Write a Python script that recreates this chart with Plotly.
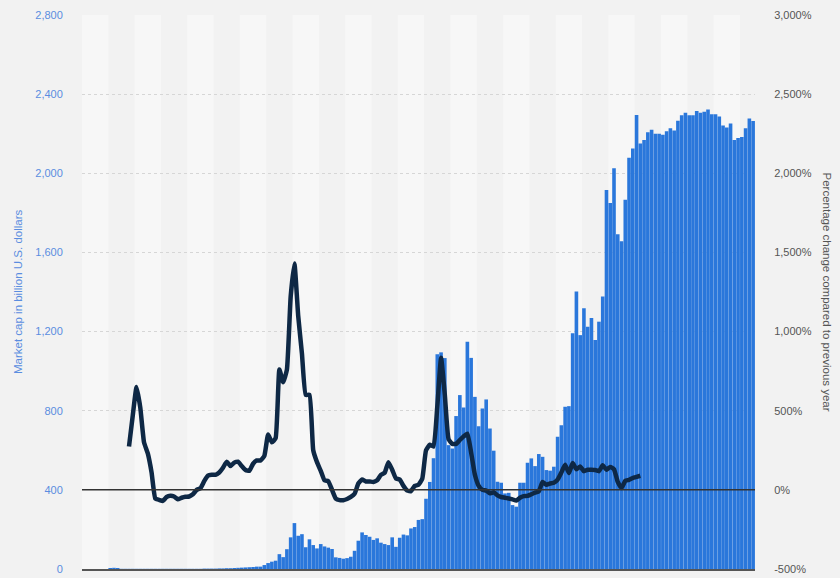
import plotly.graph_objects as go

# ---- data ----
periods = list(range(179))  # monthly periods, oldest first

market_cap = [
    0, 0, 0, 0, 0, 0, 0,
    5, 6, 5,
    1, 1, 1, 1, 1, 1, 1, 1, 1, 1,
    1, 1, 1, 1, 1, 1, 1, 1, 1, 1,
    1, 1, 2, 2, 2, 2, 3,
    3, 4, 4, 5, 6, 7, 8, 9, 10, 12, 12,
    20, 30, 37, 42, 75, 60, 100, 160, 232,
    168, 176, 110, 150, 121, 104, 126, 114, 108, 101, 59, 56, 52, 55, 62, 92, 143,
    185, 172, 163, 147, 155, 133, 126, 121, 160, 112, 158, 174, 170, 205, 212, 248, 252, 355, 440, 560,
    1085, 1095, 1066, 626, 609, 773, 879, 816, 1148, 1067, 870, 722, 811, 857, 710, 598,
    441, 436, 382, 385, 323, 315, 436, 436, 537, 559, 520, 581, 567, 500, 497, 517, 668, 727, 820, 823,
    1192, 1403, 1182, 1318, 1224, 1268, 1157, 1250, 1377, 1915, 1850, 2025, 1692, 1656, 1866, 2078, 2125, 2295,
    2150, 2168, 2208, 2220, 2200, 2200, 2195, 2212, 2228, 2216, 2265, 2293, 2306, 2293, 2293, 2315,
    2306, 2311, 2323, 2298, 2298, 2287, 2241, 2232, 2252, 2168, 2178, 2183, 2227, 2277, 2264,
]

pct_start = 12  # first period with a year-on-year value
pct_change = [
    274, 470, 650, 520, 300, 230, 110, -55, -63, -70,
    -45, -38, -42, -59, -50, -44, -42, -28, 0, 10,
    55, 90, 95, 95, 110, 140, 178, 150, 172, 178,
    150, 125, 120, 165, 186, 186, 215, 350, 300, 327,
    760, 680, 760, 1220, 1430, 1100, 860, 600, 600, 250,
    175, 120, 60, 55, 0, -55, -65, -65, -58, -45,
    -25, 40, 65, 53, 53, 50, 60, 95, 108, 175,
    127, 72, 65, 25, -5, -8, 25, 32, 70, 250,
    285, 274, 527, 835, 600, 320, 290, 290, 315, 338,
    355, 235, 95, 25, 0, -5, -22, -15, -35, -45,
    -50, -55, -60, -68, -50, -40, -38, -28, -18, -10,
    50, 32, 40, 45, 65, 110, 158, 106, 169, 130,
    148, 118, 127, 127, 125, 118, 155, 127, 145, 130,
    50, 11, 58, 63, 75, 82, 89,
]

left_ticks = [0, 400, 800, 1200, 1600, 2000, 2400, 2800]
right_ticks = [-500, 0, 500, 1000, 1500, 2000, 2500, 3000]

# ---- styles ----
BAR = "#2a77db"
LINE = "#0e2845"
BLUE_TXT = "#5a8de0"
GREY_TXT = "#555555"
BG = "#f2f2f2"
BAND = "#f7f7f7"
FONT = "Liberation Sans, Arial, sans-serif"

L, R, T, B = 82, 85, 15, 9
PW = 840 - L - R

fig = go.Figure()

fig.add_trace(go.Bar(
    x=periods, y=market_cap, marker=dict(color=BAR, line=dict(width=0)),
    yaxis="y", name="Market cap", hoverinfo="skip",
))

fig.add_trace(go.Scatter(
    x=periods[pct_start:pct_start + len(pct_change)], y=pct_change,
    mode="lines", line=dict(color=LINE, width=4.5, shape="spline", smoothing=0.4),
    yaxis="y2", name="Percentage change", hoverinfo="skip",
))

# alternating vertical bands (every 7 periods)
shapes = []
band = 7
n = len(periods)
for k in range(0, n, band):
    if (k // band) % 2 == 0:
        shapes.append(dict(
            type="rect", xref="x", yref="paper",
            x0=k - 0.5, x1=min(k + band, n) - 0.5, y0=0, y1=1,
            fillcolor=BAND, line=dict(width=0), layer="below",
        ))
# 0 % reference line on the right axis
shapes.append(dict(
    type="line", xref="paper", yref="y2", x0=0, x1=1, y0=0, y1=0,
    line=dict(color="#333333", width=1.5), layer="above",
))

fig.update_layout(
    width=840, height=578,
    margin=dict(l=L, r=R, t=T, b=B, autoexpand=False),
    paper_bgcolor=BG, plot_bgcolor=BG,
    showlegend=False,
    bargap=0.04,
    font=dict(family=FONT, size=11),
    shapes=shapes,
    hovermode=False,
    xaxis=dict(
        range=[-0.5, n - 0.5], showticklabels=False, ticks="",
        showgrid=False, zeroline=False, automargin=False,
        showline=True, linecolor="#555555", linewidth=1.5,
    ),
    yaxis=dict(
        range=[0, 2800], tickvals=left_ticks, tickformat=",",
        tickfont=dict(color=BLUE_TXT, size=11, family=FONT),
        ticks="outside", ticklen=16, tickcolor="rgba(0,0,0,0)",
        showgrid=True, gridcolor="#d6d6d6", griddash="dot", gridwidth=1,
        zeroline=False, showline=False, automargin=False,
    ),
    yaxis2=dict(
        range=[-500, 3000], tickvals=right_ticks,
        ticktext=[f"{v:,}%" for v in right_ticks],
        tickfont=dict(color=GREY_TXT, size=11, family=FONT),
        ticks="outside", ticklen=16, tickcolor="rgba(0,0,0,0)",
        overlaying="y", side="right", showgrid=False, zeroline=False,
        showline=False, automargin=False,
    ),
    annotations=[
        dict(text="Market cap in billion U.S. dollars", xref="paper", yref="paper",
             x=(18 - L) / PW, y=0.5, textangle=-90, showarrow=False,
             font=dict(color=BLUE_TXT, size=11.5, family=FONT),
             xanchor="center", yanchor="middle"),
        dict(text="Percentage change compared to previous year", xref="paper", yref="paper",
             x=(826.5 - L) / PW, y=0.5, textangle=90, showarrow=False,
             font=dict(color=GREY_TXT, size=11.5, family=FONT),
             xanchor="center", yanchor="middle"),
    ],
)

fig.write_html(
    "out.html",
    config={"displayModeBar": False, "staticPlot": True},
    post_script=(
        "document.body.style.margin='0';"
        "document.body.style.padding='0';"
        "document.body.style.background='#f2f2f2';"
        "document.documentElement.style.overflow='hidden';"
    ),
)
